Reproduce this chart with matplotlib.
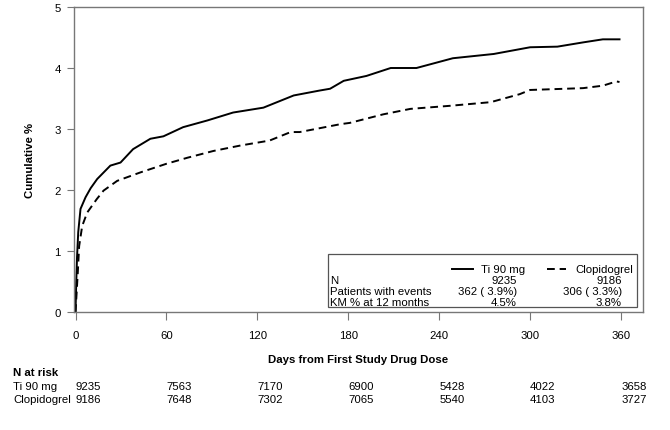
import matplotlib
matplotlib.use('Agg')
import matplotlib.pyplot as plt
from matplotlib.patches import Rectangle

plt.rcParams['font.family'] = ['Liberation Sans', 'DejaVu Sans']
plt.rcParams['font.size'] = 8.2

# KM curves (day, cumulative %)
ti_days = [0, 0.5, 1, 1.8, 3.3, 6.6, 10, 14.3, 23, 29.7, 38, 49.4, 58, 71, 87, 104, 124,
           144, 161, 168, 177, 192, 208, 225, 249, 276, 300, 318, 335, 348, 359]
ti_vals = [0, 0.5, 0.9, 1.31, 1.69, 1.88, 2.03, 2.18, 2.4, 2.45, 2.67, 2.84, 2.88, 3.03, 3.14,
           3.27, 3.35, 3.55, 3.63, 3.66, 3.79, 3.87, 4.0, 4.0, 4.16, 4.23, 4.34, 4.35, 4.42,
           4.47, 4.47]
clop_days = [0, 0.7, 1.5, 2.4, 4.4, 7.7, 14, 18.5, 27.5, 43, 60, 74, 91, 109, 128, 142, 148,
             175, 181, 203, 221, 247, 274, 293, 300, 335, 348, 357, 359]
clop_vals = [0, 0.3, 0.65, 1.08, 1.41, 1.63, 1.85, 1.99, 2.15, 2.29, 2.43, 2.53, 2.64, 2.73,
             2.81, 2.95, 2.95, 3.08, 3.1, 3.24, 3.33, 3.38, 3.44, 3.57, 3.64, 3.67, 3.71,
             3.78, 3.77]

xticks = [0, 60, 120, 180, 240, 300, 360]
yticks = [0, 1, 2, 3, 4, 5]
groups = ['Ti 90 mg', 'Clopidogrel']
n_pat = ['9235', '9186']
events = ['362 ( 3.9%)', '306 ( 3.3%)']
km12 = ['4.5%', '3.8%']
risk_ti = [9235, 7563, 7170, 6900, 5428, 4022, 3658]
risk_clop = [9186, 7648, 7302, 7065, 5540, 4103, 3727]

W, H = 670, 431
fig = plt.figure(figsize=(W / 100, H / 100), dpi=100)
L, R, T, B = 74, 643, 8, 313
ax = fig.add_axes([L / W, 1 - B / H, (R - L) / W, (B - T) / H])

ax.plot(ti_days, ti_vals, color='black', lw=1.4)
ax.plot(clop_days, clop_vals, color='black', lw=1.4, dashes=(4, 2.5))

ax.set_xlim(-1, 374.5)
ax.set_ylim(0, 5)
ax.set_xticks(xticks)
ax.set_yticks(yticks)
ax.set_xticklabels([str(t) for t in xticks])
ax.tick_params(axis='x', length=6, pad=7, color='#777777')
ax.tick_params(axis='y', length=5, pad=4.5, color='#777777')
for s in ax.spines.values():
    s.set_color('#777777')
    s.set_linewidth(1.0)
ax.set_ylabel('Cumulative %', fontweight='bold', labelpad=14)


def axc(px, py):
    return (px - L) / (R - L), (B - py) / (B - T)


# summary box
x0, y0 = axc(328, 308)
x1, y1 = axc(637, 255)
ax.add_patch(Rectangle((x0, y0), x1 - x0, y1 - y0, transform=ax.transAxes,
                       fill=False, edgecolor='#555555', lw=0.9))
rows = [270, 281, 292, 303]
ax.plot(*zip(axc(452, 270), axc(473, 270)), transform=ax.transAxes, color='black', lw=1.4)
ax.plot(*zip(axc(547, 270), axc(566, 270)), transform=ax.transAxes, color='black', lw=1.4,
        dashes=(4, 2.5))
ax.text(*axc(525, rows[0]), groups[0], transform=ax.transAxes, ha='right', va='center')
ax.text(*axc(633, rows[0]), groups[1], transform=ax.transAxes, ha='right', va='center')
labels = ['N', 'Patients with events', 'KM % at 12 months']
for i, (lab, a, b) in enumerate(zip(labels, [n_pat[0], events[0], km12[0]],
                                    [n_pat[1], events[1], km12[1]])):
    ax.text(*axc(330, rows[i + 1]), lab, transform=ax.transAxes, ha='left', va='center')
    ax.text(*axc(517, rows[i + 1]), a, transform=ax.transAxes, ha='right', va='center')
    ax.text(*axc(622, rows[i + 1]), b, transform=ax.transAxes, ha='right', va='center')


def ftext(px, py, s, **kw):
    fig.text(px / W, 1 - py / H, s, va='center', **kw)


ftext((L + R) / 2, 360, 'Days from First Study Drug Dose', ha='center', fontweight='bold')
ftext(13, 373, 'N at risk', ha='left', fontweight='bold')
ftext(13, 387, groups[0], ha='left')
ftext(13, 400, groups[1], ha='left')
for t, a, b in zip(xticks, risk_ti, risk_clop):
    px = ax.transData.transform((t, 0))[0]
    ftext(px, 387, str(a), ha='left')
    ftext(px, 400, str(b), ha='left')

fig.savefig('out.png', dpi=100)
